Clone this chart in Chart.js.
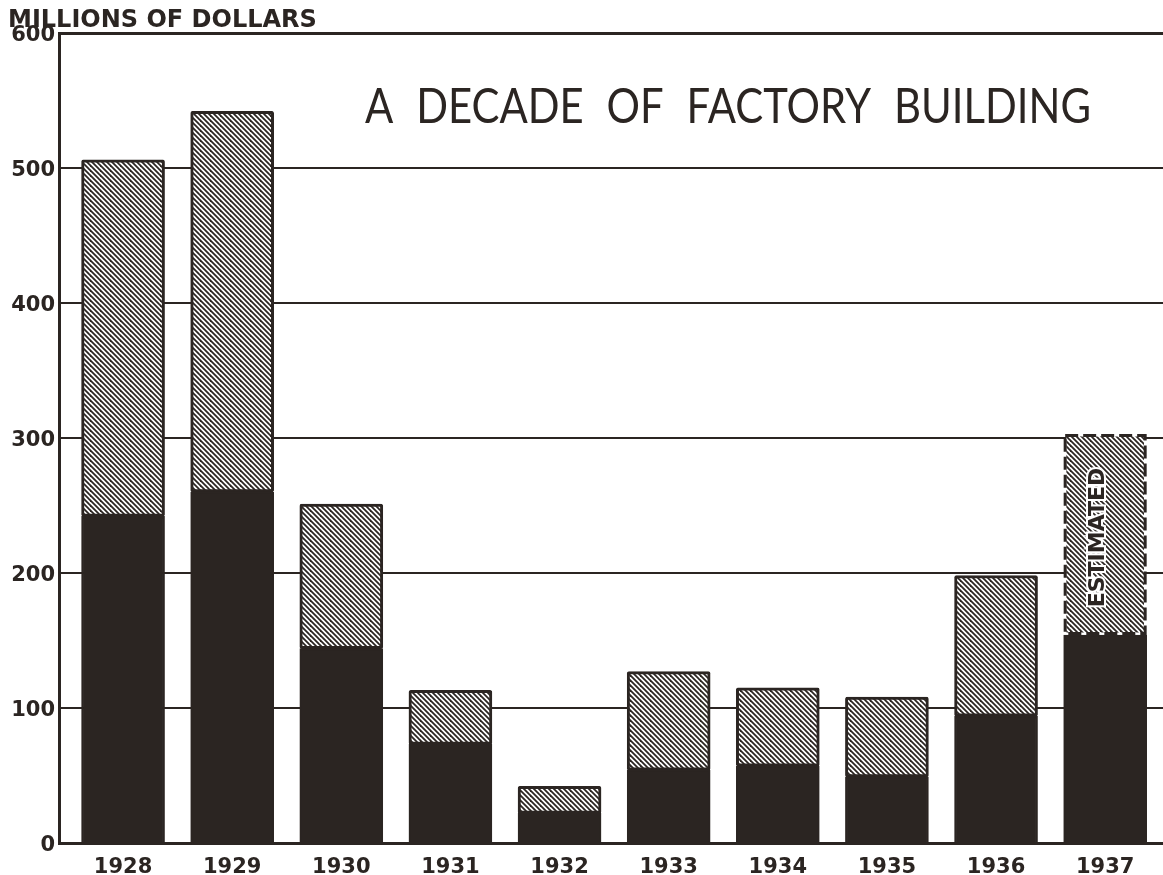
<!DOCTYPE html>
<html>
<head>
<meta charset="utf-8">
<script src="https://cdn.jsdelivr.net/npm/chart.js@4.4.0/dist/chart.umd.min.js"></script>
<style>
  html, body { margin: 0; padding: 0; background: #fff; }
  #wrap { width: 1163px; height: 875px; }
</style>
</head>
<body>
<div id="wrap"><canvas id="c" width="1163" height="875"></canvas></div>
<script>
// values, millions of dollars
const years = ['1928', '1929', '1930', '1931', '1932', '1933', '1934', '1935', '1936', '1937'];
const totals = [506, 542, 251, 113, 42, 127, 115, 108, 198, 303];
const lowerPart = [242, 260, 144, 73, 22, 54, 57, 49, 94, 154];
const upperPart = totals.map((t, i) => t - lowerPart[i]);
const yTicks = [0, 100, 200, 300, 400, 500, 600];
const estimatedIndex = 9;

const ink = '#2b2522';
const canvas = document.getElementById('c');
const ctx = canvas.getContext('2d');

// diagonal hatch for the upper part
const tile = document.createElement('canvas');
tile.width = 10; tile.height = 10;
const t = tile.getContext('2d');
t.fillStyle = '#fff';
t.fillRect(0, 0, 10, 10);
t.strokeStyle = ink;
t.lineWidth = 1.8;
for (let k = -2; k <= 2; k++) {
  t.beginPath();
  t.moveTo(k * 5 - 3, -3);
  t.lineTo(k * 5 + 13, 13);
  t.stroke();
}
const hatch = ctx.createPattern(tile, 'repeat');

const extras = {
  id: 'extras',
  afterDatasetsDraw(chart) {
    const c = chart.ctx;
    c.save();
    // dashed outline of the estimated bar
    const bar = chart.getDatasetMeta(1).data[estimatedIndex];
    const half = bar.width / 2;
    c.strokeStyle = ink;
    c.lineWidth = 3;
    c.setLineDash([13, 5]);
    c.strokeRect(bar.x - half + 1.5, bar.y + 1.5, bar.width - 3, bar.base - bar.y - 3);
    c.setLineDash([]);

    c.translate(bar.x - 7, (bar.y + bar.base) / 2 + 3);
    c.rotate(-Math.PI / 2);
    c.font = 'bold 22px "DejaVu Sans"';
    c.textAlign = 'center';
    c.textBaseline = 'middle';
    c.lineWidth = 4;
    c.strokeStyle = '#fff';
    c.strokeText('ESTIMATED', 0, 0, 147);
    c.fillStyle = ink;
    c.fillText('ESTIMATED', 0, 0, 147);
    c.restore();

    c.save();
    c.fillStyle = ink;
    c.textBaseline = 'alphabetic';
    c.textAlign = 'left';
    c.font = 'bold 24px "DejaVu Sans"';
    c.fillText('MILLIONS OF DOLLARS', 8, 27, 314);
    c.font = '400 48px Lato, "DejaVu Sans"';
    c.wordSpacing = '14px';
    c.fillText('A DECADE OF FACTORY BUILDING', 365, 123, 726);
    c.restore();
  }
};

new Chart(ctx, {
  type: 'bar',
  data: {
    datasets: [{
      label: 'lower',
      data: lowerPart.map((v, i) => ({ x: i, y: v })),
      backgroundColor: ink,
      borderColor: ink,
      borderWidth: 2,
      borderRadius: 2,
      barThickness: 83
    }, {
      label: 'upper',
      data: upperPart.map((v, i) => ({ x: i, y: v })),
      backgroundColor: hatch,
      borderColor: c => c.dataIndex === estimatedIndex ? 'rgba(0,0,0,0)' : ink,
      borderWidth: 3,
      borderSkipped: false,
      borderRadius: 2,
      barThickness: 83
    }]
  },
  options: {
    responsive: false,
    animation: false,
    layout: { padding: { top: 33, right: 0, left: 0, bottom: 0 } },
    plugins: {
      legend: { display: false },
      tooltip: { enabled: false }
    },
    scales: {
      x: {
        type: 'linear',
        stacked: true,
        offset: false,
        min: -0.587,
        max: 9.53,
        afterFit: s => { s.height = 32; },
        afterBuildTicks: s => { s.ticks = years.map((y, i) => ({ value: i })); },
        grid: { display: false, drawTicks: false },
        border: { display: true, color: ink, width: 3 },
        ticks: {
          padding: 12,
          color: ink,
          font: { family: 'DejaVu Sans', weight: 'bold', size: 21 },
          callback: v => years[v]
        }
      },
      y: {
        stacked: true,
        min: 0,
        max: 600,
        afterFit: s => { s.width = 59; },
        afterBuildTicks: s => { s.ticks = yTicks.map(v => ({ value: v })); },
        grid: {
          drawTicks: false,
          color: c => c.tick && c.tick.value === 0 ? 'rgba(0,0,0,0)' : ink,
          lineWidth: c => c.tick && c.tick.value === 600 ? 3 : 2
        },
        border: { display: true, color: ink, width: 3 },
        ticks: {
          padding: 4,
          labelOffset: 3,
          color: ink,
          font: { family: 'DejaVu Sans', weight: 'bold', size: 21 }
        }
      }
    }
  },
  plugins: [extras]
});
</script>
</body>
</html>
